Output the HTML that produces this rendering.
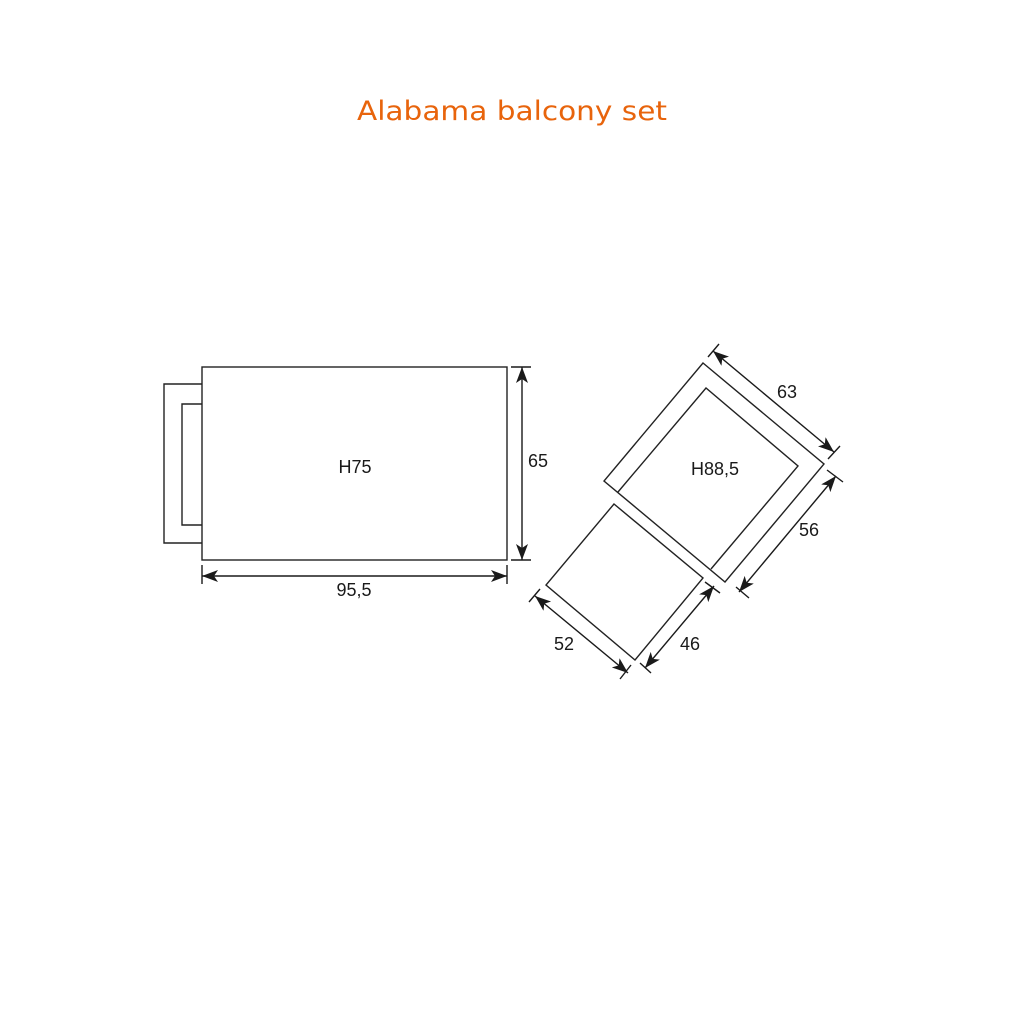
<!DOCTYPE html>
<html><head><style>html,body{margin:0;padding:0;background:#fff}</style></head>
<body>
<svg width="1024" height="1024" viewBox="0 0 1024 1024" xmlns="http://www.w3.org/2000/svg">
<defs>
<marker id="a" viewBox="0 0 16 12" refX="16" refY="6" markerWidth="16" markerHeight="12" markerUnits="userSpaceOnUse" orient="auto-start-reverse">
<path d="M0,0 L16,6 L0,12 L4,6 z" fill="#1a1a1a"/>
</marker>
</defs>
<text x="512" y="120" text-anchor="middle" font-family="DejaVu Sans, sans-serif" font-size="27" fill="#e8640c" textLength="310" lengthAdjust="spacingAndGlyphs">Alabama balcony set</text>
<g fill="none" stroke="#222" stroke-width="1.4">
<rect x="202" y="367" width="305" height="193"/>
<polyline points="202,384 164,384 164,543 202,543"/>
<polyline points="202,404 182,404 182,525 202,525"/>
<polygon points="703,363 824,464 725,582 604,481"/>
<polyline points="618,492 706,388 798,466 711,569"/>
<polygon points="614,504 703,578 635,660 546,585"/>
</g>
<g stroke="#1a1a1a" stroke-width="1.4">
<line x1="522" y1="367" x2="522" y2="560" marker-start="url(#a)" marker-end="url(#a)"/>
<line x1="511" y1="367" x2="531" y2="367"/><line x1="511" y1="560" x2="531" y2="560"/>
<line x1="202" y1="576" x2="507" y2="576" marker-start="url(#a)" marker-end="url(#a)"/>
<line x1="202" y1="565" x2="202" y2="584"/><line x1="507" y1="565" x2="507" y2="584"/>
<line x1="713" y1="351" x2="834" y2="452" marker-start="url(#a)" marker-end="url(#a)"/>
<line x1="708" y1="357" x2="719" y2="344"/><line x1="828" y1="459" x2="840" y2="446"/>
<line x1="836" y1="476" x2="739" y2="592" marker-start="url(#a)" marker-end="url(#a)"/>
<line x1="827" y1="470" x2="843" y2="482"/><line x1="736" y1="587" x2="749" y2="598"/>
<line x1="714" y1="586" x2="645" y2="668" marker-start="url(#a)" marker-end="url(#a)"/>
<line x1="705" y1="582" x2="720" y2="593"/><line x1="640" y1="663" x2="651" y2="673"/>
<line x1="535" y1="596" x2="628" y2="673" marker-start="url(#a)" marker-end="url(#a)"/>
<line x1="529" y1="602" x2="540" y2="589"/><line x1="620" y1="679" x2="631" y2="665"/>
</g>
<g font-family="Liberation Sans, Arial, sans-serif" font-size="18" fill="#1a1a1a" text-anchor="middle">
<text x="355" y="473">H75</text>
<text x="538" y="467">65</text>
<text x="354" y="596">95,5</text>
<text x="715" y="475">H88,5</text>
<text x="787" y="398">63</text>
<text x="809" y="536">56</text>
<text x="564" y="650">52</text>
<text x="690" y="650">46</text>
</g>
</svg>
</body></html>
